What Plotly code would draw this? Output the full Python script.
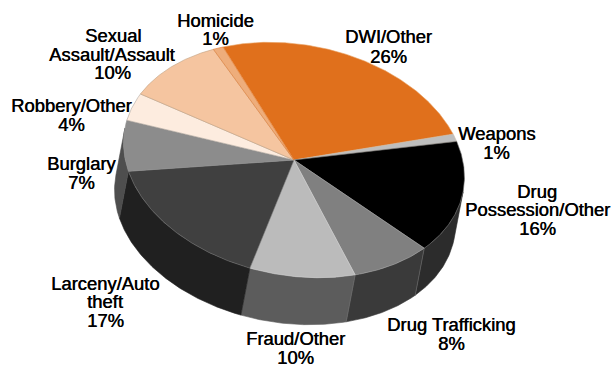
import numpy as np
import plotly.graph_objects as go

# Offense shares, clockwise from the top of the pie
categories = ["DWI/Other", "Weapons", "Drug Possession/Other", "Drug Trafficking", "Fraud/Other",
              "Larceny/Auto theft", "Burglary", "Robbery/Other", "Sexual Assault/Assault", "Homicide"]
shares = [26, 1, 16, 8, 10, 17, 7, 4, 10, 1]

top_colors = ["#E0701C", "#BEBEBE", "#000000", "#808080", "#BBBBBB",
              "#404040", "#8C8C8C", "#FDECDF", "#F5C5A0", "#EEAD7B"]
side_colors = ["#A05010", "#888888", "#2C2C2C", "#3A3A3A", "#5C5C5C",
               "#202020", "#4E4E4E", "#B0A090", "#B09070", "#A07050"]
edge_colors = ["#E8A060", "#C8B8A8", "#707070", "#A0A0A0", "#D0D0D0",
               "#707070", "#909090", "#B0A8A0", "#C0A080", "#E07A30"]

# Label text, one entry per line: (text, x, y)
label_lines = [
    ("Homicide", 215, 20), ("1%", 215, 38),
    ("DWI/Other", 388, 36), ("26%", 388, 56),
    ("Weapons", 496, 133), ("1%", 496, 152),
    ("Drug", 537, 191), ("Possession/Other", 537, 209), ("16%", 537, 228),
    ("Drug Trafficking", 451, 324), ("8%", 451, 343),
    ("Fraud/Other", 295, 338), ("10%", 295, 357),
    ("Larceny/Auto", 105, 283), ("theft", 105, 301), ("17%", 105, 320),
    ("Burglary", 81, 163), ("7%", 81, 182),
    ("Robbery/Other", 71, 105), ("4%", 71, 124),
    ("Sexual", 113, 35), ("Assault/Assault", 112, 54), ("10%", 112, 72),
]

# Projection of the disc onto the page: centre plus two axis vectors, and the extrusion
CENTER = np.array([294.0, 160.0])
AXIS_A = np.array([-71.0, -113.0])
AXIS_B = np.array([155.0, -33.0])
DEPTH = np.array([-9.0, 47.0])
SIDE_FROM, SIDE_TO = 122.0, 302.0  # arc range (degrees) where the rim faces the viewer
SEAM_COLOR = "#6A6A6A"


def rim(a0, a1):
    deg = np.linspace(a0, a1, max(int(abs(a1 - a0) * 2), 2))
    rad = np.radians(deg)
    return CENTER + np.outer(np.cos(rad), AXIS_A) + np.outer(np.sin(rad), AXIS_B)


def polygon(points, color, edge=None):
    return go.Scatter(
        x=points[:, 0], y=points[:, 1], mode="lines", fill="toself", fillcolor=color,
        line=dict(color=edge or color, width=0.6), hoverinfo="skip", showlegend=False,
    )


fig = go.Figure()
edges = np.concatenate([[0.0], np.cumsum(shares) / np.sum(shares) * 360.0])

# Rim walls first, so the top faces sit above them
for i in range(len(shares)):
    a0, a1 = max(edges[i], SIDE_FROM), min(edges[i + 1], SIDE_TO)
    if a1 > a0:
        arc = rim(a0, a1)
        fig.add_trace(polygon(np.vstack([arc, (arc + DEPTH)[::-1], arc[:1]]), side_colors[i]))

# Faint vertical seams where the lighter wall sections meet
for i in (3, 4):
    p = rim(edges[i], edges[i] + 0.1)[0]
    q = p + DEPTH
    fig.add_trace(go.Scatter(x=[p[0], q[0]], y=[p[1], q[1]], mode="lines",
                             line=dict(color=SEAM_COLOR, width=0.7),
                             hoverinfo="skip", showlegend=False))

# Top faces
for i in range(len(shares)):
    arc = rim(edges[i], edges[i + 1])
    fig.add_trace(polygon(np.vstack([CENTER, arc, CENTER]), top_colors[i], edge_colors[i]))

for text, x, y in label_lines:
    fig.add_annotation(x=x, y=y, text=text, showarrow=False, xanchor="center", yanchor="middle",
                       font=dict(family="Liberation Sans", size=18.4, color="#000000",
                                 shadow="0.5px 0 0 #000000"))

fig.update_layout(
    width=612, height=369, margin=dict(l=0, r=0, t=0, b=0),
    paper_bgcolor="white", plot_bgcolor="white",
    xaxis=dict(range=[0, 612], visible=False, fixedrange=True),
    yaxis=dict(range=[369, 0], visible=False, fixedrange=True),
)
fig.write_html("out.html", config=dict(displayModeBar=False))
